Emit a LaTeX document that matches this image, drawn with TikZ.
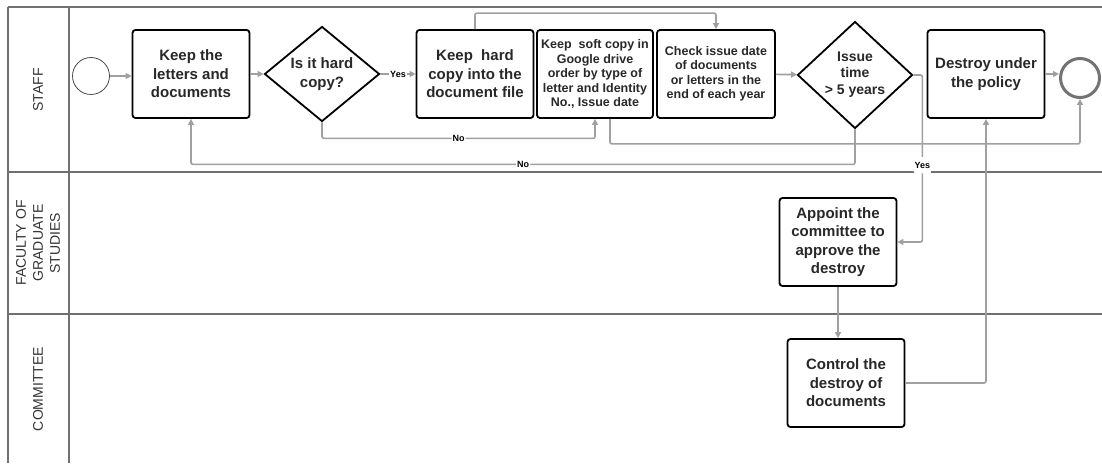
\documentclass[tikz,border=0pt]{standalone}
\usepackage{fontspec}
\setmainfont{Liberation Sans}
\definecolor{wire}{RGB}{160,160,160}
\definecolor{rule}{RGB}{112,112,112}
\definecolor{ink}{RGB}{40,40,40}
\usetikzlibrary{arrows.meta,shapes.geometric,calc}
\tikzset{
  task/.style={draw=black, rounded corners=3pt, line width=1.8pt, fill=white,
               minimum width=117pt, minimum height=88pt, inner sep=2pt, align=center,
               text=ink, font=\bfseries\fontsize{15}{18.5}\selectfont},
  smalltask/.style={task, font=\bfseries\fontsize{12.5}{14.5}\selectfont},
  choice/.style={diamond, draw=black, line width=1.8pt, fill=white,
               minimum width=115pt, minimum height=88pt, inner sep=0pt, align=center,
               text=ink, font=\bfseries\fontsize{15}{18.5}\selectfont},
  lane/.style={rule, line width=1.6pt},
  lanetitle/.style={rotate=90, align=center, text=black!80,
               font=\fontsize{14}{17}\selectfont},
  flow/.style={-{Triangle[length=6pt,width=6pt]}, wire, line width=1.6pt, rounded corners=2pt},
  tag/.style={fill=white, inner sep=1pt, text=black, font=\bfseries\fontsize{9}{10}\selectfont},
}

\begin{document}
\begin{tikzpicture}[x=1pt,y=-1pt]
        \useasboundingbox (0,0) rectangle (1102,465);
        \draw[lane] (8,7) -- (1102,7);
        \draw[lane] (8,172) -- (1102,172);
        \draw[lane] (8,314) -- (1102,314);
        \draw[lane] (8,7) -- (8,463);
        \draw[lane] (69,7) -- (69,463);
        \node[lanetitle] (tstaff) at (38,90)  {STAFF};
        \node[lanetitle] (tfgs)   at (38,243) {FACULTY OF\\GRADUATE\\STUDIES};
        \node[lanetitle] (tcom)   at (38,389) {COMMITTEE};
        \node[circle, draw=black!70, line width=0.8pt, minimum size=37pt] (start) at (91,76) {};
        \node[task]  (keep)    at (191,74) {Keep the\\letters and\\documents};
        \node[choice] (isHard) at (322,74) {Is it hard\\copy?};
        \node[task]  (hard)    at (475,74) {Keep\ \ hard\\copy into the\\document file};
        \node[smalltask, minimum width=116pt] (soft) at (595,74)
              {Keep\ \ soft copy in\\Google drive\\order by type of\\letter and Identity\\No., Issue date};
        \node[smalltask, minimum width=118pt] (check) at (716,74)
              {Check issue date\\of documents\\or letters in the\\end of each year};
        \node[choice, font=\bfseries\fontsize{14}{16.5}\selectfont] (isOld) at (855,75)
              {\raisebox{4pt}{Issue}\\\raisebox{4pt}{time}\\\raisebox{4pt}{> 5 years}};
        \node[task]  (destroy) at (986,74) {Destroy under\\the policy};
        \node[circle, draw=black!55, line width=3pt, minimum size=39pt] (stop) at (1080,78) {};
        \node[task]  (appoint) at (838,242) {Appoint the\\committee to\\approve the\\destroy};
        \node[task]  (control) at (846,383) {Control the\\destroy of\\documents};
        \draw[flow] (start.east) -- (start.east -| keep.west);
        \draw[flow] (keep) -- (isHard);
        \draw[flow] (isHard) -- node[tag] {Yes} (hard);
        \draw[flow] (isHard.south) -- ++(0,16) -| node[tag, pos=0.25] {No} (soft.south);
        \draw[flow] (hard.north) -- ++(0,-16) -| (check.north);
        \draw[flow] ($(soft.south)+(15,0)$) -- ++(0,25) -| (stop.south);
        \draw[flow] (check) -- (isOld);
        \draw[flow] (isOld.south) -- ++(0,35) -| node[tag, pos=0.25] {No} (keep.south);
        \draw[flow] (isOld.east) -- ++(9,0) |- node[tag, inner ysep=5pt, pos=0.27] {Yes} (appoint.east);
        \draw[flow] (appoint.south) -- (appoint.south |- control.north);
        \draw[flow] (control.east) -| (destroy.south);
        \draw[flow] (destroy) -- (destroy -| stop.west);
\end{tikzpicture}
\end{document}
